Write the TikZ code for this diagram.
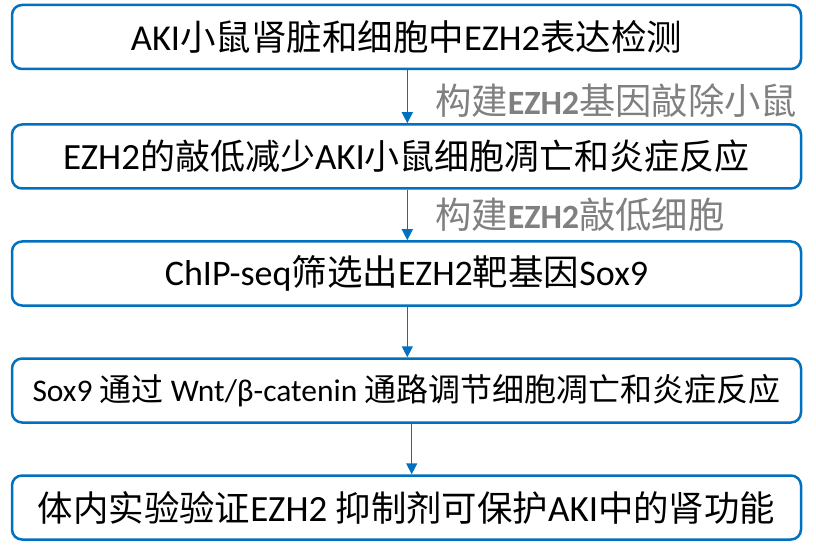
\documentclass[tikz,border=0pt]{standalone}
\usepackage{fontspec}
\setmainfont{Carlito}
\newfontfamily\cjk{Noto Sans CJK SC}
\usetikzlibrary{arrows.meta}
\definecolor{boxblue}{HTML}{0070C0}
\definecolor{labelgray}{HTML}{808080}
\def\csz{35}
\newcommand\C[1]{{\cjk\fontsize{\csz}{\csz}\selectfont #1}}
\tikzset{
  box/.style={draw=boxblue, line width=2.5pt, rounded corners=10pt, minimum width=789pt, minimum height=64pt, inner sep=0pt, fill=white, text=black},
  arr/.style={draw=boxblue, line width=1.5pt, -{Triangle[width=11pt,length=11pt]}},
  lbl/.style={text=labelgray, anchor=west, inner sep=0pt},
  fs/.style 2 args={font=\def\csz{#2}\fontsize{#1}{#1}\selectfont}
}
\begin{document}
\begin{tikzpicture}[x=1pt,y=-1pt]
\useasboundingbox (0,0) rectangle (816,545);
\node[box, fs={36.5}{35.5}] (b1) at (406.5,37) {AKI\C{小鼠肾脏和细胞中}EZH2\C{表达检测}};
\node[box, fs={37}{35}] (b2) at (406.5,156.5) {EZH2\C{的敲低减少}AKI\C{小鼠细胞凋亡和炎症反应}};
\node[box, fs={36}{35.5}] (b3) at (406.5,273.5) {ChIP-seq\C{筛选出}EZH2\C{靶基因}Sox9};
\node[box, fs={31.5}{32}] (b4) at (406.5,390.5) {Sox9 \C{通过} Wnt/β-catenin \C{通路调节细胞凋亡和炎症反应}};
\node[box, fs={37}{35.4}] (b5) at (406.5,507.5) {\C{体内实验验证}EZH2 \C{抑制剂可保护}AKI\C{中的肾功能}};
\coordinate (ax) at (407.3,0);
\coordinate (ax2) at (411.7,0);
\draw[arr] (b1.south -| ax) -- (b2.north -| ax);
\draw[arr] (b2.south -| ax) -- (b3.north -| ax);
\draw[arr] (b3.south -| ax) -- (b4.north -| ax);
\draw[arr] (b4.south -| ax2) -- (b5.north -| ax2);
\node[lbl, fs={34}{36.3}] (l1) at (435,101) {\C{构建}\textbf{EZH2}\C{基因敲除小鼠}};
\node[lbl, fs={34}{36.3}] (l2) at (435,215) {\C{构建}\textbf{EZH2}\C{敲低细胞}};
\end{tikzpicture}
\end{document}
